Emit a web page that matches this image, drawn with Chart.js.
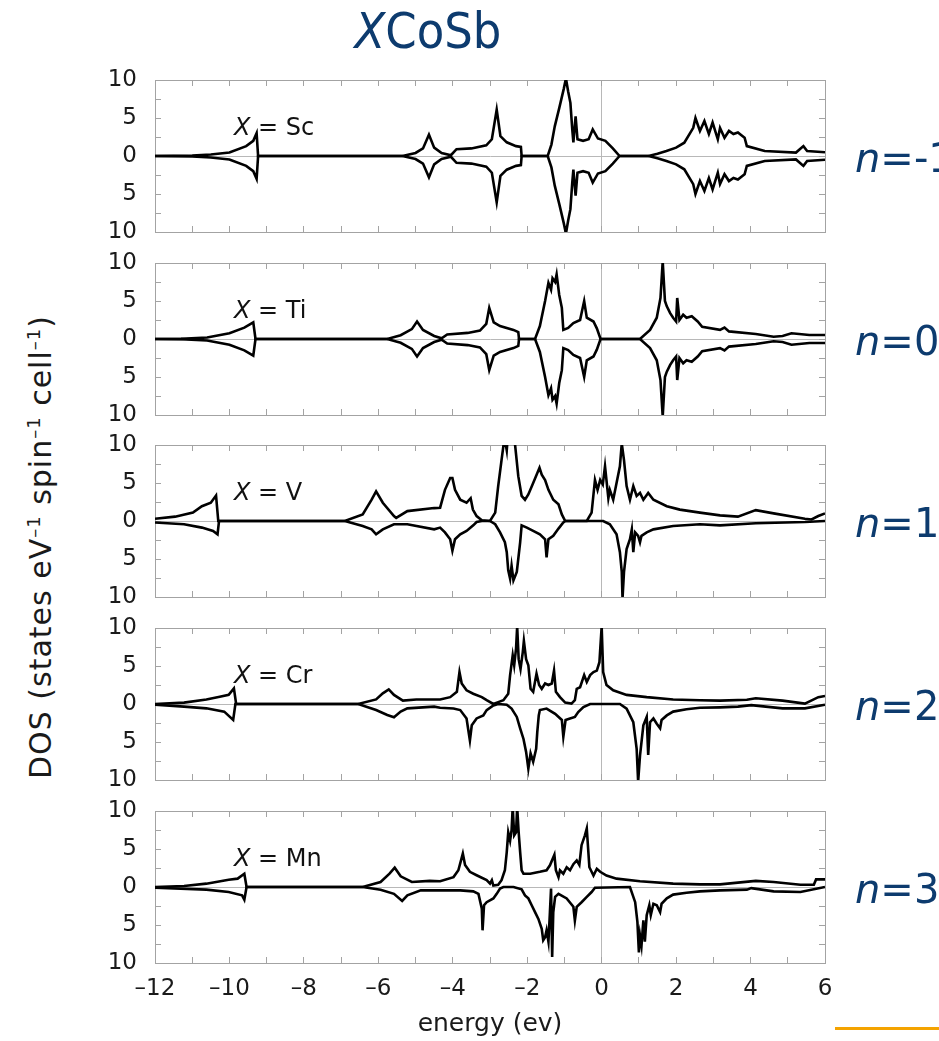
<!DOCTYPE html>
<html>
<head>
<meta charset="utf-8">
<title>XCoSb DOS</title>
<script src="https://cdn.jsdelivr.net/npm/chart.js@4.4.1/dist/chart.umd.min.js"></script>
<style>
  html, body { margin: 0; padding: 0; background: #fff; }
  #fig { position: relative; width: 939px; height: 1041px; overflow: hidden; background: #fff; }
  #fig canvas { position: absolute; left: 0; }
  .blue { position: absolute; color: #0d3b6e; white-space: nowrap; line-height: 1; }
  #title { left: 0; top: 6px; width: 856px; text-align: center; font-size: 50px;
           font-family: "Liberation Sans Narrow", "DejaVu Sans Condensed", sans-serif; }
  .nlab { left: 855px; font-size: 40px; font-family: "DejaVu Sans", sans-serif; }
  #ylab { position: absolute; left: 40px; top: 547px; white-space: nowrap; color: #1a1a1a; letter-spacing: 1px;
          font: 30px "DejaVu Sans", sans-serif; transform: translate(-50%, -50%) rotate(-90deg); }
  #ylab sup { font-size: 0.6em; }
  #rule { position: absolute; left: 835px; top: 1027px; width: 104px; height: 3px; background: #f4a300; }
</style>
</head>
<body>
<div id="fig">
  <div id="title" class="blue"><i>X</i>CoSb</div>
  <div id="ylab">DOS (states eV<sup>&ndash;1</sup> spin<sup>&ndash;1</sup> cell<sup>&ndash;1</sup>)</div>
  <div id="rule"></div>
</div>
<script>
(function () {
    'use strict';

    // panels, top to bottom
    var metals = ['Sc', 'Ti', 'V', 'Cr', 'Mn'];
    var electronCounts = ['-1', '0', '1', '2', '3'];

    // axis ticks
    var energyTicks = [-12, -11, -10, -9, -8, -7, -6, -5, -4, -3, -2, -1, 0, 1, 2, 3, 4, 5, 6];
    var energyLabelled = [-12, -10, -8, -6, -4, -2, 0, 2, 4, 6];
    var dosTicks = [-10, -7.5, -5, -2.5, 0, 2.5, 5, 7.5, 10];
    var dosLabelled = [-10, -5, 0, 5, 10];

    // [energy (eV), DOS]; Sc and Ti are non-magnetic (same curve both spins)
    var scBoth = [[-12, 0], [-11, 0.05], [-10.5, 0.2], [-10, 0.45], [-9.55, 1.3], [-9.36, 2.0], [-9.27, 3.0], [-9.23, 0],
        [-5.35, 0], [-5.0, 0.4], [-4.8, 1.0], [-4.64, 2.8], [-4.5, 1.1], [-4.3, 0.4], [-4.05, 0.1], [-3.9, 0.9],
        [-3.5, 1.0], [-3.1, 1.4], [-2.95, 2.2], [-2.82, 6.1], [-2.72, 2.6], [-2.55, 1.8], [-2.3, 1.3], [-2.17, 1.2], [-2.15, 0],
        [-1.45, 0], [-1.35, 1.5], [-1.26, 3.9], [-1.14, 6.3], [-1.02, 8.8], [-0.96, 10.2], [-0.9, 8.5], [-0.84, 7.0],
        [-0.79, 3.5], [-0.76, 1.8], [-0.7, 5.2], [-0.65, 2.2], [-0.5, 2.0], [-0.35, 2.2], [-0.24, 3.5], [-0.1, 2.3],
        [0.1, 2.0], [0.3, 1.0], [0.48, 0],
        [1.26, 0], [1.5, 0.3], [1.74, 0.65], [2.0, 1.1], [2.22, 1.75], [2.46, 3.7], [2.52, 5.0], [2.64, 3.3], [2.76, 4.6],
        [2.88, 2.9], [2.98, 4.4], [3.12, 2.2], [3.18, 3.7], [3.3, 2.4], [3.42, 3.3], [3.54, 2.9], [3.66, 3.1], [3.84, 2.4],
        [3.9, 1.3], [4.38, 0.65], [5.22, 0.45], [5.42, 1.3], [5.52, 0.65], [6, 0.5]];

    var tiBoth = [[-12, 0], [-11.3, 0.02], [-10.6, 0.2], [-10, 0.75], [-9.6, 1.5], [-9.36, 2.2], [-9.3, 0],
        [-5.76, 0], [-5.4, 0.5], [-5.1, 1.3], [-4.96, 2.3], [-4.8, 1.2], [-4.5, 0.4], [-4.3, 0.1], [-4.15, 0.6],
        [-3.6, 0.8], [-3.27, 1.1], [-3.1, 2.0], [-3.02, 4.1], [-2.9, 2.2], [-2.73, 1.7], [-2.37, 1.2], [-2.24, 0.9], [-2.22, 0],
        [-1.79, 0], [-1.66, 1.7], [-1.52, 5.0], [-1.43, 7.4], [-1.36, 6.5], [-1.32, 8.0], [-1.25, 7.5], [-1.21, 8.5],
        [-1.14, 5.8], [-1.07, 4.1], [-1.03, 1.2], [-0.9, 1.45], [-0.76, 2.1], [-0.58, 2.5], [-0.47, 5.0], [-0.4, 2.8],
        [-0.22, 2.3], [-0.13, 1.4], [-0.03, 0],
        [1.03, 0], [1.3, 1.2], [1.48, 2.8], [1.58, 5.4], [1.64, 10.2], [1.7, 5.0], [1.75, 4.3], [1.84, 3.4], [1.92, 2.8],
        [2.0, 2.3], [2.03, 5.4], [2.09, 2.5], [2.19, 3.2], [2.28, 2.8], [2.42, 3.0], [2.58, 2.3], [2.7, 1.6], [3.18, 1.2],
        [3.3, 1.5], [3.42, 1.0], [4.14, 0.66], [4.62, 0.3], [4.86, 0.4], [5.1, 0.75], [5.58, 0.53], [6, 0.53]];

    var vUp = [[-12, 0.3], [-11.46, 0.57], [-10.98, 1.1], [-10.74, 1.95], [-10.5, 2.4], [-10.36, 3.35], [-10.3, 0],
        [-6.9, 0], [-6.42, 0.87], [-6.18, 2.8], [-6.06, 3.9], [-5.88, 2.4], [-5.58, 0.65], [-5.52, 0.4], [-5.22, 1.3],
        [-4.5, 1.7], [-4.34, 1.75], [-4.21, 4.1], [-4.07, 5.65], [-4.01, 5.65], [-3.94, 4.1], [-3.8, 2.8], [-3.63, 2.4],
        [-3.52, 3.0], [-3.46, 1.5], [-3.36, 0.65], [-3.22, 0.1], [-3.0, 0], [-2.86, 1.1], [-2.78, 4.6], [-2.69, 8.0],
        [-2.61, 11], [-2.55, 9.3], [-2.51, 12], [-2.4, 12], [-2.33, 10.2], [-2.24, 5.9], [-2.15, 3.3], [-2.06, 2.8],
        [-1.97, 3.5], [-1.84, 5.0], [-1.67, 7.0], [-1.61, 6.1], [-1.52, 5.4], [-1.43, 4.1], [-1.3, 2.8], [-1.16, 2.2],
        [-1.07, 0.87], [-0.98, 0],
        [-0.4, 0], [-0.27, 1.1], [-0.18, 5.4], [-0.11, 4.1], [-0.04, 5.4], [0.03, 4.8], [0.09, 7.2], [0.18, 3.0],
        [0.22, 4.1], [0.31, 2.8], [0.4, 5.0], [0.49, 7.2], [0.54, 10.2], [0.6, 8.0], [0.67, 4.6], [0.76, 2.8], [0.85, 4.6],
        [0.94, 3.3], [1.03, 3.7], [1.12, 2.8], [1.25, 3.7], [1.39, 2.8], [1.75, 1.95], [2.1, 1.5], [2.64, 1.1], [3.18, 0.74],
        [3.66, 0.57], [4.14, 1.43], [4.62, 1.0], [5.46, 0.3], [5.64, 0.2], [5.82, 0.65], [6, 1.0]];

    var vDown = [[-12, 0.2], [-11.22, 0.43], [-10.74, 0.87], [-10.44, 1.3], [-10.32, 1.75], [-10.28, 0],
        [-6.9, 0], [-6.42, 0.65], [-6.18, 1.1], [-6.06, 1.75], [-5.88, 1.1], [-5.58, 0.43], [-5.22, 0.43], [-4.5, 1.1],
        [-4.34, 0.87], [-4.21, 1.5], [-4.07, 2.4], [-4.01, 3.9], [-3.94, 2.4], [-3.8, 1.75], [-3.63, 1.3], [-3.45, 0.57],
        [-3.36, 0.13], [-3.22, 0], [-3.0, 0], [-2.86, 0.43], [-2.73, 1.5], [-2.6, 2.8], [-2.55, 4.1], [-2.51, 6.5],
        [-2.46, 7.6], [-2.42, 5.9], [-2.37, 7.8], [-2.28, 6.7], [-2.19, 2.8], [-2.15, 0.57], [-2.01, 0.87], [-1.84, 1.3],
        [-1.66, 1.75], [-1.52, 2.4], [-1.48, 4.8], [-1.43, 2.4], [-1.3, 1.95], [-1.16, 1.0], [-1.03, 0.2], [-0.98, 0],
        [0.04, 0], [0.22, 0.43], [0.4, 1.75], [0.49, 4.1], [0.54, 6.7], [0.56, 10.2], [0.6, 6.7], [0.67, 3.7], [0.76, 2.4],
        [0.81, 1.1], [0.85, 4.1], [0.9, 1.5], [0.98, 1.95], [1.03, 2.8], [1.07, 1.95], [1.21, 1.5], [1.39, 1.1],
        [1.92, 0.65], [2.64, 0.43], [3.18, 0.57], [4.14, 0.3], [5.46, 0.13], [6, 0]];

    var crUp = [[-12, 0], [-11.22, 0.18], [-10.62, 0.6], [-10.26, 0.96], [-10.02, 1.2], [-9.88, 2.06], [-9.82, 0],
        [-6.54, 0], [-6.06, 0.6], [-5.88, 1.4], [-5.72, 1.93], [-5.58, 1.2], [-5.34, 0.44], [-4.98, 0.6], [-4.34, 0.6],
        [-4.07, 0.9], [-3.89, 1.6], [-3.82, 4.2], [-3.76, 2.7], [-3.63, 1.8], [-3.45, 1.35], [-3.22, 0.9], [-3.09, 0.5],
        [-2.91, 0], [-2.78, 0.25], [-2.64, 0.5], [-2.51, 1.35], [-2.46, 3.8], [-2.39, 6.4], [-2.35, 5.1], [-2.3, 7.3],
        [-2.27, 10.2], [-2.23, 5.9], [-2.18, 4.6], [-2.12, 6.8], [-2.09, 8.3], [-2.03, 5.9], [-1.97, 5.1], [-1.91, 2.0],
        [-1.84, 1.6], [-1.75, 4.0], [-1.68, 2.5], [-1.61, 2.0], [-1.52, 2.7], [-1.43, 2.5], [-1.34, 2.7], [-1.28, 4.4],
        [-1.23, 1.6], [-1.12, 0.9], [-0.98, 0.18], [-0.81, 0.05], [-0.72, 0.5], [-0.67, 2.0], [-0.58, 2.2], [-0.47, 3.8],
        [-0.4, 2.9], [-0.31, 3.8], [-0.22, 4.2], [-0.13, 4.4], [-0.06, 5.5], [0, 10.2], [0.04, 4.2], [0.13, 2.5],
        [0.31, 1.8], [0.67, 1.2], [1.21, 0.9], [1.92, 0.6], [2.64, 0.5], [3.18, 0.44], [3.9, 0.55], [4.14, 0.75],
        [4.86, 0.44], [5.46, 0.05], [5.82, 0.9], [6, 1.05]];

    var crDown = [[-12, 0.1], [-11.22, 0.35], [-10.62, 0.57], [-10.14, 1.0], [-9.9, 2.1], [-9.84, 0],
        [-6.54, 0], [-6.06, 0.8], [-5.76, 1.45], [-5.58, 1.75], [-5.4, 1.0], [-5.22, 0.57], [-4.5, 0.35], [-4.34, 0.5],
        [-3.98, 0.6], [-3.8, 0.8], [-3.63, 1.9], [-3.54, 4.8], [-3.49, 2.8], [-3.36, 1.9], [-3.18, 1.5], [-3.09, 0.8],
        [-2.91, 0.2], [-2.78, 0], [-2.55, 0.1], [-2.42, 0.6], [-2.28, 1.7], [-2.19, 3.2], [-2.1, 4.6], [-2.03, 6.3],
        [-1.97, 8.5], [-1.91, 6.5], [-1.84, 7.6], [-1.76, 5.9], [-1.73, 3.7], [-1.69, 1.5], [-1.66, 0.8], [-1.48, 0.6],
        [-1.25, 1.3], [-1.07, 2.1], [-1.03, 4.3], [-0.97, 2.1], [-0.85, 1.9], [-0.72, 1.7], [-0.63, 1.05], [-0.49, 0.4],
        [-0.31, 0], [0.49, 0], [0.67, 0.6], [0.85, 2.4], [0.94, 5.9], [0.98, 10.2], [1.03, 6.8], [1.12, 2.8], [1.21, 1.7],
        [1.25, 6.7], [1.3, 2.4], [1.39, 1.9], [1.48, 2.6], [1.57, 3.2], [1.61, 2.1], [1.75, 1.5], [1.92, 1.0],
        [2.28, 0.7], [2.64, 0.5], [3.18, 0.44], [3.66, 0.35], [4.02, 0.15], [4.86, 0.57], [5.46, 0.57], [6, 0.1]];

    var mnUp = [[-12, 0], [-11.22, 0.13], [-10.62, 0.44], [-10.02, 0.96], [-9.78, 1.1], [-9.6, 1.75], [-9.54, 0],
        [-6.42, 0], [-5.94, 0.66], [-5.7, 1.75], [-5.56, 2.54], [-5.4, 1.4], [-5.1, 0.66], [-4.62, 0.8], [-4.34, 0.75],
        [-3.98, 1.3], [-3.85, 2.2], [-3.73, 4.4], [-3.67, 2.9], [-3.54, 2.0], [-3.36, 1.55], [-3.09, 0.9], [-3.0, 0.45],
        [-2.95, 0.9], [-2.91, 0.2], [-2.78, 0.3], [-2.69, 0.9], [-2.6, 2.2], [-2.55, 4.6], [-2.51, 7.2], [-2.46, 6.1],
        [-2.42, 7.5], [-2.39, 10.5], [-2.35, 6.8], [-2.3, 7.2], [-2.27, 10.5], [-2.23, 7.2], [-2.19, 4.6], [-2.15, 2.2],
        [-2.1, 1.75], [-1.92, 1.75], [-1.66, 2.0], [-1.48, 2.2], [-1.39, 2.85], [-1.27, 4.25], [-1.23, 2.2], [-1.16, 1.3],
        [-1.12, 2.2], [-1.03, 1.75], [-0.94, 2.6], [-0.85, 2.2], [-0.76, 3.0], [-0.67, 3.5], [-0.6, 2.9], [-0.54, 5.5],
        [-0.45, 6.8], [-0.4, 7.7], [-0.33, 2.6], [-0.27, 2.0], [-0.22, 1.5], [-0.13, 2.4], [-0.04, 2.0], [0.13, 1.5],
        [0.4, 1.1], [1.03, 0.75], [1.92, 0.44], [2.64, 0.35], [3.18, 0.35], [4.14, 0.8], [4.62, 0.66], [5.34, 0.3],
        [5.7, 0.3], [5.76, 1.0], [6, 1.0]];

    var mnDown = [[-12, 0.1], [-10.62, 0.35], [-10.02, 0.66], [-9.66, 1.1], [-9.6, 1.67], [-9.54, 0],
        [-6.42, 0], [-5.94, 0.35], [-5.58, 0.9], [-5.36, 1.84], [-5.22, 1.1], [-4.86, 0.44], [-4.34, 0.44],
        [-3.8, 0.44], [-3.45, 0.57], [-3.31, 0.9], [-3.22, 2.85], [-3.2, 5.7], [-3.16, 2.4], [-3.09, 2.0], [-2.91, 1.5],
        [-2.82, 0.9], [-2.73, 0.2], [-2.64, 0], [-2.37, 0], [-2.15, 0.3], [-2.06, 1.1], [-1.97, 1.5], [-1.88, 2.4],
        [-1.79, 3.3], [-1.7, 4.2], [-1.61, 5.5], [-1.57, 7.0], [-1.52, 6.6], [-1.48, 5.7], [-1.43, 7.2], [-1.39, 3.3],
        [-1.36, 0.2], [-1.33, 9.2], [-1.3, 3.3], [-1.25, 1.3], [-1.16, 0.9], [-0.94, 1.5], [-0.76, 2.6], [-0.72, 4.4],
        [-0.67, 2.6], [-0.54, 2.0], [-0.4, 1.3], [-0.27, 0.66], [-0.18, 0.1], [0.76, 0], [0.9, 2.0], [0.96, 4.6],
        [1.0, 8.6], [1.03, 6.4], [1.07, 7.7], [1.12, 4.4], [1.16, 7.2], [1.21, 3.7], [1.28, 2.4], [1.32, 3.7],
        [1.39, 2.2], [1.48, 2.4], [1.57, 3.3], [1.61, 2.2], [1.75, 1.5], [1.92, 1.0], [2.28, 0.75], [2.64, 0.57],
        [3.18, 0.44], [3.9, 0.35], [4.02, 0.15], [4.62, 0.57], [5.34, 0.66], [6, 0]];

    var spinUp = [scBoth, tiBoth, vUp, crUp, mnUp];
    var spinDown = [scBoth, tiBoth, vDown, crDown, mnDown];

    // layout (pixels)
    var frameTops = [80, 263, 445, 628, 811];
    var frameHeight = 152;
    var frameLeft = 155;
    var frameRight = 825;
    var canvasWidth = 870;
    // the y tick labels (font + their padding) reach ~38px beyond the frame,
    // so every canvas keeps a 42px band round the frame for them
    var band = 42;
    var bottomBand = 80;

    var tickFont = { family: '"DejaVu Sans", sans-serif', size: 23 };
    var frameGrey = '#a3a3a3';
    var fig = document.getElementById('fig');

    function zeroLine(ctx) {
        return ctx.tick && ctx.tick.value === 0 ? '#b8b8b8' : 'rgba(0,0,0,0)';
    }

    function fmtEnergy(v) {
        return v < 0 ? '\u2013' + Math.abs(v) : String(v);
    }

    function toPoints(pairs, sign) {
        // spin down is drawn below the axis
        return pairs.map(function (p) { return { x: p[0], y: sign * p[1] }; });
    }

    // "X = Sc" style label, placed in data coordinates
    var panelLabel = {
        id: 'panelLabel',
        afterDatasetsDraw: function (chart, args, opts) {
            var ctx = chart.ctx;
            var px = chart.scales.x.getPixelForValue(opts.energy);
            var py = chart.scales.y.getPixelForValue(opts.dos);
            ctx.save();
            ctx.fillStyle = '#111';
            ctx.textBaseline = 'alphabetic';
            ctx.textAlign = 'left';
            ctx.font = 'italic 24px "DejaVu Sans", sans-serif';
            ctx.fillText('X', px, py);
            var w = ctx.measureText('X').width;
            ctx.font = '24px "DejaVu Sans", sans-serif';
            ctx.fillText(' = ' + opts.text, px + w, py);
            ctx.restore();
        }
    };

    function buildPanel(i) {
        var isLast = i === metals.length - 1;
        var xAxisHeight = isLast ? bottomBand : band;
        var h = band + frameHeight + xAxisHeight + 2;

        var canvas = document.createElement('canvas');
        canvas.width = canvasWidth;
        canvas.height = h;
        canvas.style.top = (frameTops[i] - band) + 'px';
        fig.appendChild(canvas);

        new Chart(canvas, {
            type: 'line',
            data: {
                datasets: [
                    { label: metals[i] + ' up', data: toPoints(spinUp[i], 1) },
                    { label: metals[i] + ' down', data: toPoints(spinDown[i], -1) }
                ]
            },
            options: {
                responsive: false,
                animation: false,
                elements: {
                    line: { borderColor: '#000', borderWidth: 2.6, tension: 0, fill: false },
                    point: { radius: 0, hoverRadius: 0 }
                },
                layout: {
                    padding: { left: 0, right: canvasWidth - frameRight - band, top: 0, bottom: 2 }
                },
                plugins: {
                    legend: { display: false },
                    tooltip: { enabled: false },
                    panelLabel: { text: metals[i], energy: -9.88, dos: 2.7 }
                },
                scales: {
                    x: {
                        type: 'linear', position: 'bottom', min: -12, max: 6,
                        afterBuildTicks: function (s) { s.ticks = energyTicks.map(function (v) { return { value: v }; }); },
                        afterFit: function (s) { s.height = xAxisHeight; },
                        border: { color: frameGrey, width: 1 },
                        grid: { color: zeroLine, tickColor: frameGrey, tickLength: -6, lineWidth: 1 },
                        ticks: {
                            display: isLast, autoSkip: false, maxRotation: 0, padding: 18,
                            color: '#1a1a1a', font: tickFont,
                            callback: function (v) { return energyLabelled.indexOf(v) >= 0 ? fmtEnergy(v) : ''; }
                        },
                        title: {
                            display: isLast, text: 'energy (ev)', color: '#1a1a1a',
                            font: { family: '"DejaVu Sans", sans-serif', size: 25 },
                            padding: { top: 0, bottom: 4 }
                        }
                    },
                    xTop: {
                        type: 'linear', position: 'top', min: -12, max: 6,
                        afterBuildTicks: function (s) { s.ticks = energyTicks.map(function (v) { return { value: v }; }); },
                        afterFit: function (s) { s.height = band; },
                        border: { color: frameGrey, width: 1 },
                        grid: { drawOnChartArea: false, tickColor: frameGrey, tickLength: -6 },
                        ticks: { display: false, autoSkip: false }
                    },
                    y: {
                        type: 'linear', position: 'left', min: -10, max: 10,
                        afterBuildTicks: function (s) { s.ticks = dosTicks.map(function (v) { return { value: v }; }); },
                        afterFit: function (s) { s.width = frameLeft; },
                        border: { color: frameGrey, width: 1 },
                        grid: { color: zeroLine, tickColor: frameGrey, tickLength: -6, lineWidth: 1 },
                        ticks: {
                            autoSkip: false, padding: 24, color: '#1a1a1a', font: tickFont,
                            callback: function (v) { return dosLabelled.indexOf(v) >= 0 ? String(Math.abs(v)) : ''; }
                        }
                    },
                    yRight: {
                        type: 'linear', position: 'right', min: -10, max: 10,
                        afterBuildTicks: function (s) { s.ticks = dosTicks.map(function (v) { return { value: v }; }); },
                        afterFit: function (s) { s.width = band; },
                        border: { color: frameGrey, width: 1 },
                        grid: { drawOnChartArea: false, tickColor: frameGrey, tickLength: -6 },
                        ticks: { display: false, autoSkip: false }
                    }
                }
            },
            plugins: [panelLabel]
        });

        // filling number label on the right
        var n = document.createElement('div');
        n.className = 'blue nlab';
        n.style.top = (frameTops[i] + frameHeight / 2 - 18) + 'px';
        n.innerHTML = '<i>n</i>=' + electronCounts[i];
        fig.appendChild(n);
    }

    metals.forEach(function (m, i) { buildPanel(i); });
})();
</script>
</body>
</html>
